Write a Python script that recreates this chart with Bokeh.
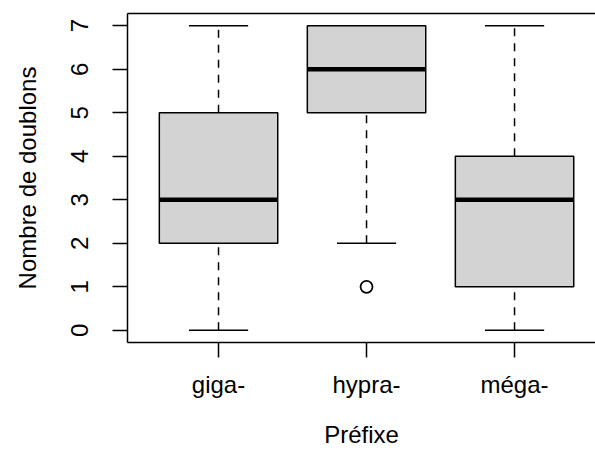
from bokeh.plotting import figure
from bokeh.models import LinearAxis, FixedTicker, Range1d, ColumnDataSource
from bokeh.embed import file_html
from bokeh.resources import INLINE

categories = ["giga-", "hypra-", "méga-"]
whisker_low = [0, 2, 0]
q1 = [2, 5, 1]
median = [3, 6, 3]
q3 = [5, 7, 4]
whisker_high = [7, 7, 7]
outlier_cat = ["hypra-"]
outlier_val = [1]
y_ticks = [0, 1, 2, 3, 4, 5, 6, 7]
x_title = "Préfixe"
y_title = "Nombre de doublons"

FONT = "Liberation Sans"
FS = "24px"

pos = [i + 1 for i in range(len(categories))]
box_w = 0.8
cap_w = 0.4

src = ColumnDataSource(dict(
    x=pos,
    left=[x - box_w / 2 for x in pos],
    right=[x + box_w / 2 for x in pos],
    cl=[x - cap_w / 2 for x in pos],
    cr=[x + cap_w / 2 for x in pos],
    lo=whisker_low, q1=q1, med=median, q3=q3, hi=whisker_high,
))

p = figure(width=595, height=457, output_backend="svg", toolbar_location=None,
           x_range=Range1d(0.385, 3.547), y_range=Range1d(-0.28, 7.28),
           min_border_left=127, min_border_top=13, min_border_bottom=115,
           min_border_right=0, x_axis_location=None, y_axis_location=None)
p.outline_line_color = None
p.grid.visible = False
p.background_fill_color = "white"
p.border_fill_color = "white"

# whiskers (dashed)
p.segment(x0="x", x1="x", y0="q3", y1="hi", source=src, line_color="black",
          line_width=1.5, line_dash="8 7")
p.segment(x0="x", x1="x", y0="lo", y1="q1", source=src, line_color="black",
          line_width=1.5, line_dash="8 7")
# caps
p.segment(x0="cl", x1="cr", y0="hi", y1="hi", source=src, line_color="black", line_width=1.5)
p.segment(x0="cl", x1="cr", y0="lo", y1="lo", source=src, line_color="black", line_width=1.5)
# boxes
p.quad(left="left", right="right", bottom="q1", top="q3", source=src,
       fill_color="#D3D3D3", line_color="black", line_width=1.5)
# medians
p.segment(x0="left", x1="right", y0="med", y1="med", source=src,
          line_color="black", line_width=4.5)
# outliers
p.scatter(x=[pos[categories.index(c)] for c in outlier_cat], y=outlier_val,
          size=12, marker="circle", fill_color=None, line_color="black", line_width=1.8)

def style(ax):
    ax.axis_line_color = "black"
    ax.axis_line_width = 1.5
    ax.major_tick_line_color = "black"
    ax.major_tick_line_width = 1.5
    ax.major_tick_out = 15
    ax.major_tick_in = 0
    ax.minor_tick_out = 0
    ax.minor_tick_in = 0
    ax.major_label_text_font = FONT
    ax.major_label_text_font_size = FS
    ax.major_label_text_color = "black"
    ax.axis_label_text_font = FONT
    ax.axis_label_text_font_size = FS
    ax.axis_label_text_font_style = "normal"
    ax.axis_label_text_color = "black"

yax = LinearAxis(ticker=FixedTicker(ticks=y_ticks), axis_label=y_title)
style(yax)
yax.major_label_orientation = "vertical"
yax.major_label_standoff = 24
yax.axis_label_standoff = 28
p.add_layout(yax, "left")

xax = LinearAxis(ticker=FixedTicker(ticks=pos), axis_label=x_title,
                 major_label_overrides={pp: c for pp, c in zip(pos, categories)})
style(xax)
xax.major_label_standoff = 13
xax.axis_label_standoff = 20
p.add_layout(xax, "below")

tax = LinearAxis(ticker=FixedTicker(ticks=[]))
tax.axis_line_color = "black"
tax.axis_line_width = 1.5
tax.major_tick_out = 0
tax.major_tick_in = 0
tax.minor_tick_out = 0
tax.minor_tick_in = 0
tax.major_label_text_font_size = "0px"
tax.major_label_standoff = 0
p.add_layout(tax, "above")

open("out.html", "w").write(file_html(p, INLINE))
